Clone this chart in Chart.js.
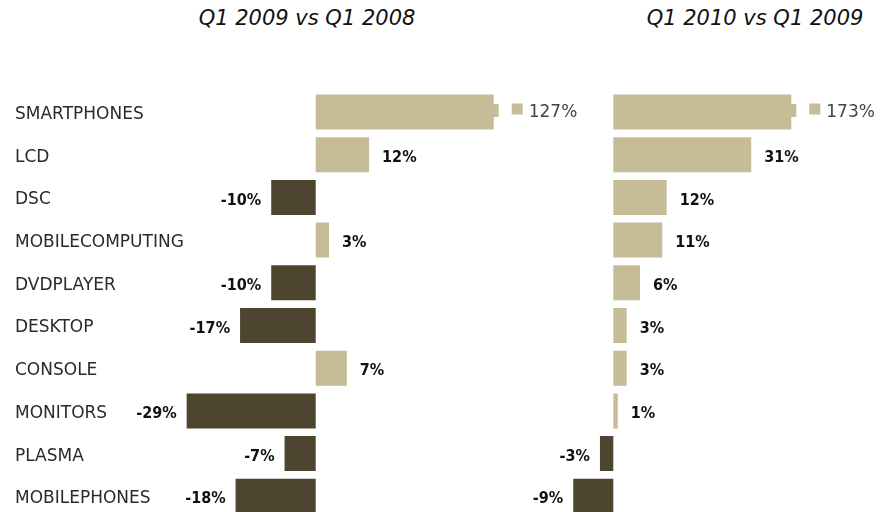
<!DOCTYPE html>
<html><head><meta charset="utf-8">
<script src="https://cdn.jsdelivr.net/npm/chart.js@4/dist/chart.umd.min.js"></script>
<style>
html,body{margin:0;padding:0;width:893px;height:512px;overflow:hidden;background:#fff;}
#c1{position:absolute;left:0;top:0;}
#c2{position:absolute;left:520px;top:0;}
.t{position:absolute;top:6px;font:italic 21px "DejaVu Sans";color:#111;white-space:nowrap;transform:translateX(-50%);}
</style></head><body>
<div class="t" style="left:307px">Q1 2009 vs Q1 2008</div>
<div class="t" style="left:755px">Q1 2010 vs Q1 2009</div>
<canvas id="c1" width="600" height="530"></canvas>
<canvas id="c2" width="373" height="530"></canvas>
<script>
const categories = ['SMARTPHONES','LCD','DSC','MOBILECOMPUTING','DVDPLAYER','DESKTOP','CONSOLE','MONITORS','PLASMA','MOBILEPHONES'];
const growth2009 = [127, 12, -10, 3, -10, -17, 7, -29, -7, -18];
const growth2010 = [173, 31, 12, 11, 6, 3, 3, 1, -3, -9];
const titles = ['Q1 2009 vs Q1 2008', 'Q1 2010 vs Q1 2009'];

const POS = '#C6BC98';
const NEG = '#4E4530';

const valuePlugin = {
  id: 'vals',
  afterDatasetsDraw(chart) {
    const ctx = chart.ctx;
    const meta = chart.getDatasetMeta(0);
    const xs = chart.scales.x;
    const ys = chart.scales.y;
    const area = chart.chartArea;
    const data = chart.data.datasets[0].data;
    // category labels (left chart only), drawn from the category scale
    if (chart.options.plugins.vals && chart.options.plugins.vals.catLabels) {
      ctx.save();
      ctx.fillStyle = '#2a2a2a';
      ctx.font = '17px "DejaVu Sans"';
      ctx.textAlign = 'left';
      ctx.textBaseline = 'middle';
      chart.data.labels.forEach((lab, i) => {
        ctx.fillText(lab, ys.left, ys.getPixelForValue(i) + 2.5);
      });
      ctx.restore();
    }
    meta.data.forEach((bar, i) => {
      const v = data[i];
      const y = bar.y;
      ctx.save();
      if (v > xs.max) {
        ctx.fillStyle = POS;
        ctx.fillRect(area.right - 1, y - 8, 6, 13);
        ctx.fillRect(area.right + 18, y - 8.5, 11, 11);
        ctx.fillStyle = '#444';
        ctx.font = '17px "DejaVu Sans"';
        ctx.textAlign = 'left';
        ctx.textBaseline = 'middle';
        ctx.fillText(v + '%', area.right + 35, y + 1);
      } else {
        ctx.fillStyle = '#111';
        ctx.font = 'bold 16px "DejaVu Sans Condensed", "DejaVu Sans"';
        ctx.textBaseline = 'middle';
        const x0 = xs.getPixelForValue(0);
        const xe = xs.getPixelForValue(v);
        if (v >= 0) {
          ctx.textAlign = 'left';
          ctx.fillText(v + '%', Math.max(xe, x0) + 13, y + 3);
        } else {
          ctx.textAlign = 'right';
          ctx.fillText(v + '%', xe - 10, y + 3);
        }
      }
      ctx.restore();
    });
  }
};

function makeChart(id, values, showLabels, pad, yWidth, xMin) {
  return new Chart(document.getElementById(id), {
    type: 'bar',
    data: {
      labels: categories,
      datasets: [{
        data: values,
        backgroundColor: values.map(v => v >= 0 ? POS : NEG),
        borderWidth: 0,
        barPercentage: 0.82,
        categoryPercentage: 1.0
      }]
    },
    options: {
      indexAxis: 'y',
      responsive: false,
      animation: false,
      events: [],
      layout: { padding: pad },
      plugins: { legend: { display: false }, tooltip: { enabled: false }, title: { display: false }, vals: { catLabels: showLabels } },
      scales: {
        x: { type: 'linear', min: xMin, max: 40, display: false },
        y: {
          display: showLabels,
          grid: { display: false },
          border: { display: false },
          ticks: { display: false },
          afterFit(scale) { scale.width = yWidth; }
        }
      }
    },
    plugins: [valuePlugin]
  });
}

makeChart('c1', growth2009, true, { left: 15, right: 106.3, top: 90.65, bottom: 12.35 }, 167.2, -30);
makeChart('c2', growth2010, false, { left: 48.8, right: 101.7, top: 90.65, bottom: 12.35 }, 0, -10);
</script>
</body></html>
